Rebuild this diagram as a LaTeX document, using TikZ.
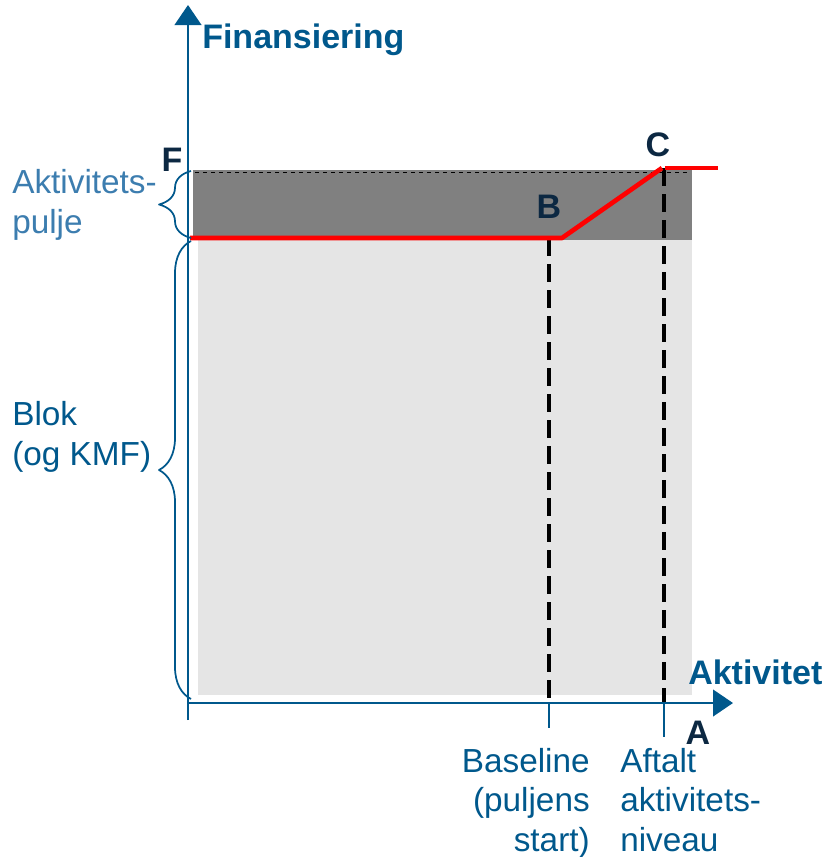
\documentclass[tikz,border=0pt]{standalone}
\usepackage{fontspec}
\setmainfont{Liberation Sans}
\usetikzlibrary{arrows.meta,decorations.pathreplacing}
\definecolor{finaxis}{RGB}{0,88,140}
\definecolor{finpool}{RGB}{60,125,175}
\definecolor{finmark}{RGB}{12,40,66}
\definecolor{finred}{RGB}{255,0,0}
\tikzset{
  finbase/.style={x=0.75pt,y=-0.75pt,line cap=butt,line join=round},
  finaxisline/.style={draw=finaxis,line width=1.6pt,-{Triangle[length=15pt,width=20pt]}},
  fintick/.style={draw=finaxis,line width=1.1pt},
  finbrace/.style={draw=finaxis,line width=1.3pt,decorate,decoration={brace,amplitude=24pt}},
  finlevel/.style={draw=black,line width=3pt,dash pattern=on 13.5pt off 6pt},
  fincurve/.style={draw=finred,line width=3.5pt},
  fintitle/.style={font=\fontsize{25.5}{30}\selectfont\bfseries,text=finaxis,inner sep=0pt},
  finletter/.style={font=\fontsize{25.5}{30}\selectfont\bfseries,text=finmark,inner sep=0pt},
  finlabel/.style={font=\fontsize{25}{29.5}\selectfont,text=finaxis,inner sep=0pt}
}
\begin{document}
\begin{tikzpicture}[finbase]
\useasboundingbox (0,0) rectangle (829,857);
\fill[black!10] (198,237) rectangle (692,695);
\fill[black!50] (193,170) rectangle (692,240);
\draw[black,line width=0.6pt,dashed] (195,172) -- (690,172);
\coordinate (O) at (188,703);
\coordinate (ytop) at (188,5);
\coordinate (xend) at (733,703);
\coordinate (ybot) at (188,720);
\coordinate (b0) at (190,238);
\coordinate (bpt) at (562,238);
\coordinate (cpt) at (662,168);
\coordinate (c1) at (665,168);
\coordinate (c2) at (718,168);
\coordinate (bfoot) at (549,703);
\coordinate (btick) at (549,728);
\coordinate (cfoot) at (664,703);
\coordinate (ctick) at (664,737);
\coordinate (btop) at (549,238);
\coordinate (ctop) at (664,168);
\draw[finlevel] (btop) -- (bfoot);
\draw[finlevel] (ctop) -- (cfoot);
\draw[fintick] (bfoot) -- (btick);
\draw[fintick] (cfoot) -- (ctick);
\draw[fincurve] (b0) -- (bpt) -- (cpt);
\draw[fincurve] (c1) -- (c2);
\draw[finaxisline] (ybot) -- (ytop);
\draw[finaxisline] (O) -- (xend);
\coordinate (poolbot) at (191,238);
\coordinate (pooltop) at (191,171);
\coordinate (blokbot) at (191,699);
\coordinate (bloktop) at (191,241);
\draw[finbrace] (poolbot) -- (pooltop);
\draw[finbrace] (blokbot) -- (bloktop);
\node[fintitle,anchor=west] (fin) at (202,40) {Finansiering};
\node[fintitle,anchor=west] (akt) at (688,672) {Aktivitet};
\node[finletter] (A) at (698,733) {A};
\node[finletter] (F) at (172,160) {F};
\node[finletter] (C) at (658,145) {C};
\node[finletter] (B) at (549,207) {B};
\node[finlabel,text=finpool,anchor=west,align=left] (pool) at (12,205) {Aktivitets-\\pulje};
\node[finlabel,anchor=west,align=left] (blok) at (12,437) {Blok\\(og KMF)};
\node[finlabel,anchor=north east,align=right] (base) at (590,748) {Baseline\\(puljens\\start)};
\node[finlabel,anchor=north west,align=left] (aftalt) at (620,748) {Aftalt\\aktivitets-\\niveau};
\end{tikzpicture}
\end{document}
